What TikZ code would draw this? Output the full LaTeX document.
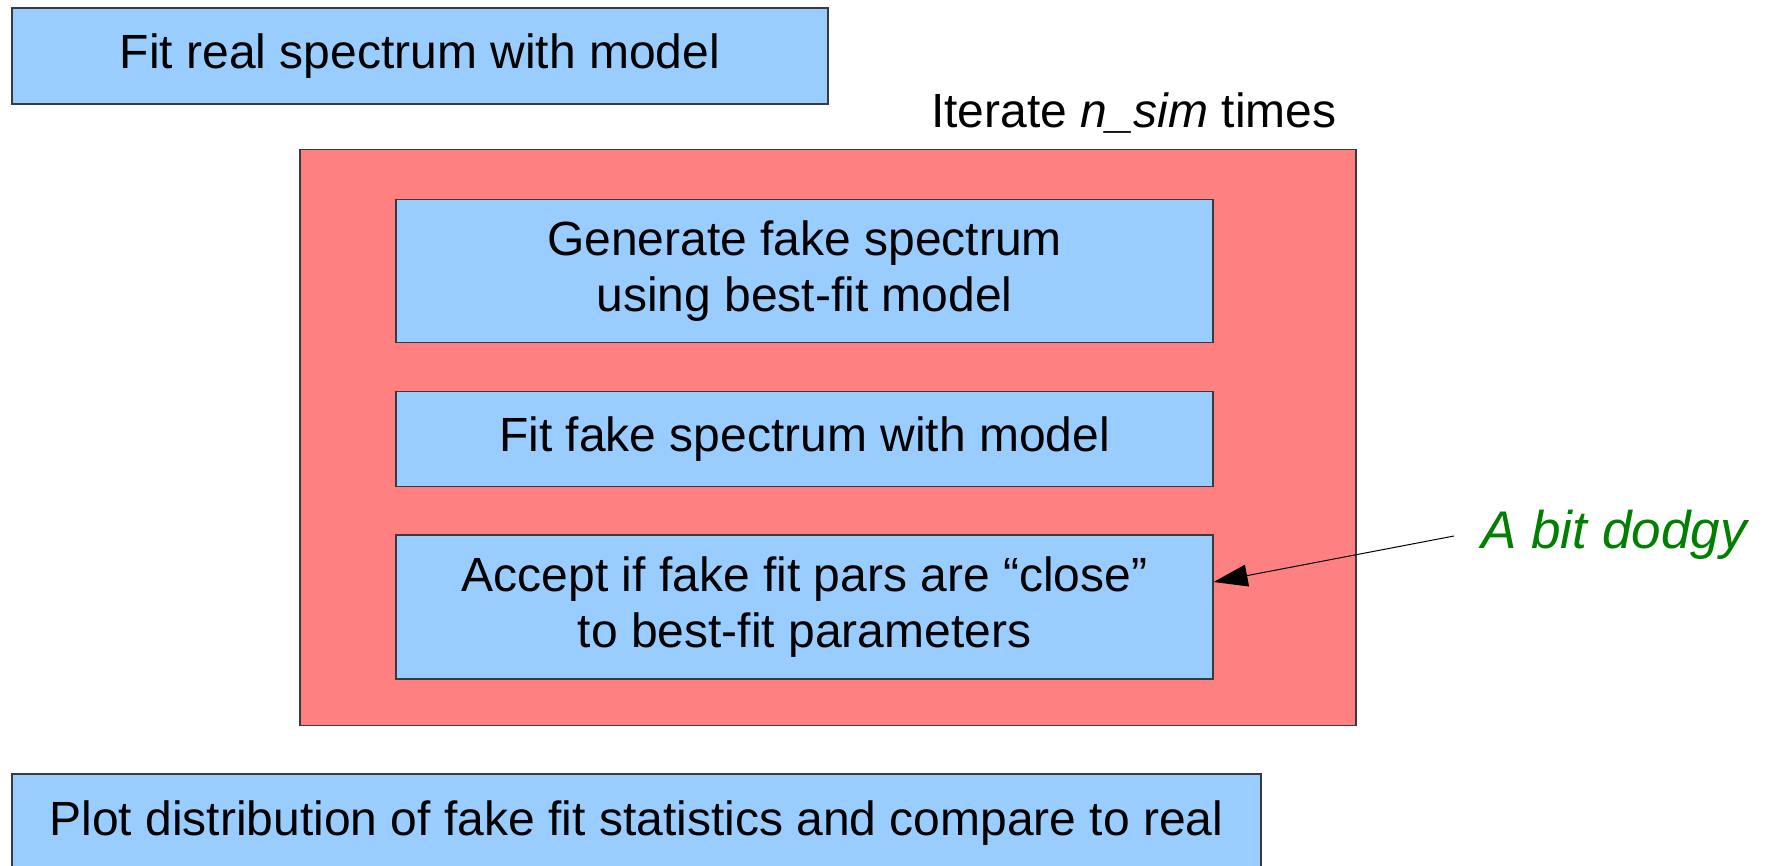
\documentclass[tikz,border=0pt]{standalone}
\usepackage{fontspec}
\setmainfont{Liberation Sans}
\usetikzlibrary{arrows.meta}
\definecolor{boxblue}{HTML}{99CCFF}
\definecolor{looped}{HTML}{FF8080}
\definecolor{edgegray}{HTML}{3A3A3A}
\definecolor{notegreen}{HTML}{008000}
\tikzset{
  stepbox/.style={rectangle, draw=edgegray, line width=0.6pt, fill=boxblue,
    inner sep=0pt, align=center, font=\fontsize{24}{28.2}\selectfont},
  loopbox/.style={rectangle, draw=edgegray, line width=0.6pt, fill=looped, inner sep=0pt},
  plain/.style={inner sep=0pt, font=\fontsize{24}{28.2}\selectfont},
  arr/.style={line width=0.5pt, -{Triangle[length=17pt, width=11pt]}}
}
\begin{document}
\begin{tikzpicture}[x=0.5pt, y=-0.5pt]
\useasboundingbox (0,0) rectangle (1772,866);
\fill[white] (0,0) rectangle (1772,866);

\node[stepbox, minimum width=408pt, minimum height=48pt] (fitreal) at (420,56)
  {Fit real spectrum with model};

\node[loopbox, minimum width=528pt, minimum height=288pt] (loop) at (828,437.5) {};
\node[plain, anchor=base east] (iter) at (1337,128) {Iterate \textit{n\_sim} times};

\node[stepbox, minimum width=408.5pt, minimum height=71.5pt] (gen) at (804.5,271)
  {Generate fake spectrum\\using best-fit model};
\node[stepbox, minimum width=408.5pt, minimum height=47.5pt] (fitfake) at (804.5,439)
  {Fit fake spectrum with model};
\node[stepbox, minimum width=408.5pt, minimum height=72pt] (accept) at (804.5,607)
  {Accept if fake fit pars are “close”\\to best-fit parameters};

\node[plain, anchor=base west, text=notegreen, font=\fontsize{26.5}{30}\selectfont\itshape]
  (dodgy) at (1481,548) {A bit dodgy};
\coordinate (tail) at (1454,536);
\draw[arr] (tail) -- ([yshift=12.5pt]accept.east);

\node[stepbox, minimum width=624.5pt, minimum height=49.5pt] (plot) at (636.5,823.5)
  {Plot distribution of fake fit statistics and compare to real};
\end{tikzpicture}
\end{document}
